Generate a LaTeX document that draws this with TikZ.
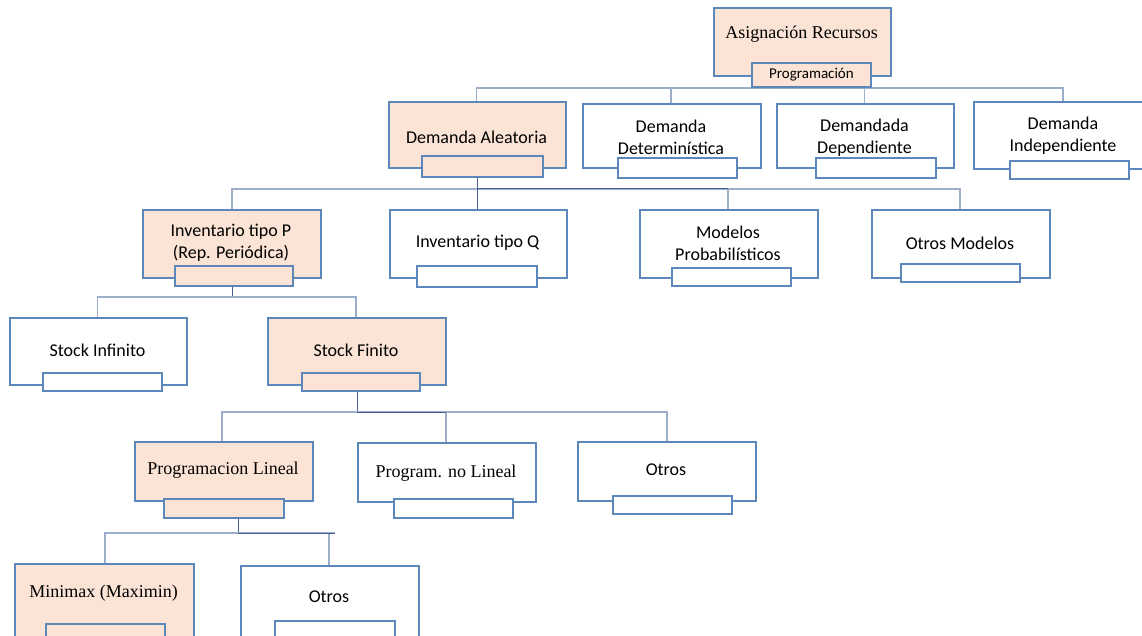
\documentclass[tikz,border=0pt]{standalone}
\usepackage{fontspec}
\setmainfont{Liberation Serif}
\newfontfamily\calib{Carlito}
\definecolor{peach}{HTML}{FBE4D5}
\definecolor{edge}{HTML}{5B87BA}
\definecolor{wire}{HTML}{9DAECB}
\definecolor{wiredark}{HTML}{4A5E95}
\tikzset{
  box/.style={draw=edge, line width=1.9pt, fill=white, anchor=north west, inner sep=0pt},
  pbox/.style={box, fill=peach},
  boxw/.style={minimum width=178, minimum height=67},
  subw/.style={minimum width=119, minimum height=19},
  conn/.style={draw=wire, line width=1.3pt},
  connd/.style={draw=wiredark, line width=1pt},
  ctxt/.style={font=\calib\fontsize{18}{22}\selectfont, align=center, inner sep=0pt},
  stxt/.style={font=\fontsize{18}{22}\selectfont, align=center, inner sep=0pt}
}
\begin{document}
\begin{tikzpicture}[x=1pt,y=-1pt]
\useasboundingbox (0,0) rectangle (1142,636);

% connector junctions below each parent
\coordinate (jA) at (810,88);
\coordinate (jB) at (477,189);
\coordinate (jC) at (232,297);
\coordinate (jD) at (357,412);
\coordinate (jE) at (238,533);

% child tops used by the buses
\coordinate (tB1) at (476.5,101);
\coordinate (tB2) at (671,103);
\coordinate (tB3) at (864.5,103);
\coordinate (tB4) at (1063,101);
\coordinate (tC1) at (232,209);
\coordinate (tC2) at (477.5,209);
\coordinate (tC3) at (728,209);
\coordinate (tC4) at (960,209);
\coordinate (tD1) at (97.5,317);
\coordinate (tD2) at (356,317);
\coordinate (tE1) at (222,441);
\coordinate (tE2) at (446,442);
\coordinate (tE3) at (667,441);
\coordinate (tF1) at (105,563);
\coordinate (tF2) at (329,565);
\coordinate (bEnd) at (335,533);

% ---- connectors ----
\draw[conn] (tB1) |- (tB4 |- jA) -- (tB4);
\draw[conn] (tB2) -- (tB2 |- jA);
\draw[conn] (tB3) -- (tB3 |- jA);

\draw[connd] (jB) -- ++(0,-13);
\draw[conn] (tC1) |- (tC4 |- jB) -- (tC4);
\draw[conn] (tC3) -- (tC3 |- jB);
\draw[connd] (tC2) -- (tC2 |- jB);
\draw[connd] (jB) -- (tC3 |- jB);

\draw[connd] (jC) -- ++(0,-12);
\draw[conn] (tD1) |- (tD2 |- jC) -- (tD2);

\draw[connd] (jD) -- ++(0,-22);
\draw[conn] (tE1) |- (tE3 |- jD) -- (tE3);
\draw[conn] (tE2) -- (tE2 |- jD);
\draw[connd] (jD) -- (tE2 |- jD);

\draw[connd] (jE) -- ++(0,-16);
\draw[conn] (tF1) |- (bEnd);
\draw[conn] (tF2) -- (tF2 |- jE);
\draw[connd] (jE) -- (bEnd);

% ---- level 0 ----
\node[pbox, minimum width=177, minimum height=68] (root) at (713,7) {};
\node[stxt] (rootT) at (801.5,34) {Asignación Recursos};
\node[pbox, subw, minimum height=24] (rootS) at (751,62) {};
\node[font=\calib\fontsize{15}{18}\selectfont, inner sep=0pt] (rootST) at (rootS.center) {Programación};

% ---- level 1 ----
\node[pbox, boxw, minimum width=177, minimum height=66] (B1) at (388,101) {};
\node[ctxt] (B1T) at (476.5,137) {Demanda Aleatoria};
\node[pbox, subw, minimum width=121, minimum height=21] (B1S) at (421,155) {};

\node[box, boxw, minimum height=64] (B2) at (582,103) {};
\node[ctxt] (B2T) at (671,137) {Demanda\\Determinística};
\node[box, subw, minimum height=20] (B2S) at (617,157) {};

\node[box, boxw, minimum width=177, minimum height=64] (B3) at (776,103) {};
\node[ctxt] (B3T) at (864.5,137.5) {Demandada\\Dependiente};
\node[box, subw, minimum width=120, minimum height=20] (B3S) at (815,157) {};

\node[box, boxw, minimum width=180, minimum height=67] (B4) at (973,101) {};
\node[ctxt] (B4T) at (1063,136) {Demanda\\Independiente};
\node[box, subw, minimum height=18] (B4S) at (1009,160) {};

% ---- level 2 ----
\node[pbox, boxw, minimum height=68] (C1) at (142,209) {};
\node[ctxt] (C1T) at (231,242.5) {Inventario tipo P\\(Rep. Periódica)};
\node[pbox, subw, minimum width=118, minimum height=20] (C1S) at (174,265) {};

\node[box, boxw, minimum width=177, minimum height=68] (C2) at (389,209) {};
\node[ctxt] (C2T) at (477.5,243) {Inventario tipo Q};
\node[box, subw, minimum width=120, minimum height=21] (C2S) at (416,265) {};

\node[box, boxw, minimum height=68] (C3) at (639,209) {};
\node[ctxt] (C3T) at (728,243) {Modelos\\Probabilísticos};
\node[box, subw, minimum height=18] (C3S) at (671,267) {};

\node[box, boxw, minimum height=68] (C4) at (871,209) {};
\node[ctxt] (C4T) at (960,243) {Otros Modelos};
\node[box, subw, minimum height=18] (C4S) at (900,263) {};

% ---- level 3 ----
\node[box, boxw, minimum width=177, minimum height=67] (D1) at (9,317) {};
\node[ctxt] (D1T) at (97.5,350) {Stock Infinito};
\node[box, subw, minimum height=18] (D1S) at (42,372) {};

\node[pbox, boxw, minimum height=67] (D2) at (267,317) {};
\node[ctxt] (D2T) at (356,350) {Stock Finito};
\node[pbox, subw, minimum width=118, minimum height=18] (D2S) at (301,372) {};

% ---- level 4 ----
\node[pbox, boxw, minimum height=59] (E1) at (134,441) {};
\node[stxt] (E1T) at (223,470) {Programacion Lineal};
\node[pbox, subw, minimum width=120, minimum height=19] (E1S) at (163,498) {};

\node[box, boxw, minimum height=59] (E2) at (357,442) {};
\node[stxt] (E2T) at (446,473) {Program. no Lineal};
\node[box, subw, minimum height=19] (E2S) at (393,498) {};

\node[box, boxw, minimum height=59] (E3) at (577,441) {};
\node[ctxt] (E3T) at (666,470) {Otros};
\node[box, subw, minimum height=18] (E3S) at (612,495) {};

% ---- level 5 ----
\node[pbox, boxw, minimum width=179, minimum height=85] (F1) at (14,563) {};
\node[stxt] (F1T) at (103.5,593) {Minimax (Maximin)};
\node[pbox, subw, minimum height=25] (F1S) at (45,623) {};

\node[box, boxw, minimum height=83] (F2) at (240,565) {};
\node[ctxt] (F2T) at (329,597) {Otros};
\node[box, subw, minimum width=120, minimum height=28] (F2S) at (274,620) {};
\end{tikzpicture}
\end{document}
